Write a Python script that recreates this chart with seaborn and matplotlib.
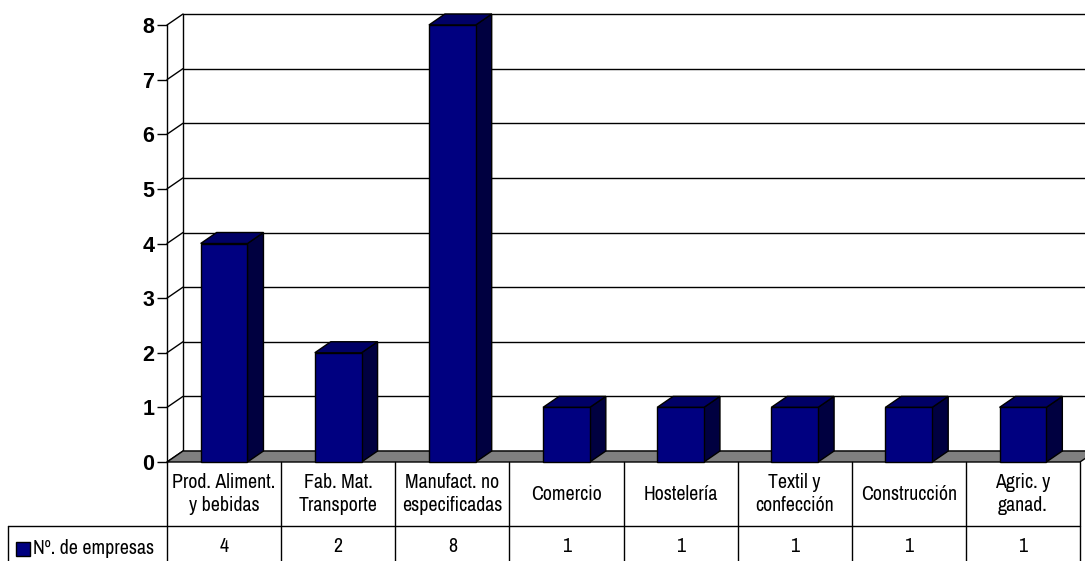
import matplotlib
matplotlib.use('Agg')
import matplotlib.pyplot as plt
import matplotlib.transforms as mtrans
from matplotlib.patches import Polygon, Rectangle
from matplotlib import font_manager as fm
import seaborn as sns

# ---------------- data ----------------
categories = ["Prod. Aliment.\ny bebidas", "Fab. Mat.\nTransporte", "Manufact. no\nespecificadas",
              "Comercio", "Hostelería", "Textil y\nconfección", "Construcción", "Agric. y\nganad."]
values = [4, 2, 8, 1, 1, 1, 1, 1]
series_name = "Nº. de empresas"
yticks = [0, 1, 2, 3, 4, 5, 6, 7, 8]

# ---------------- style ----------------
sns.set_theme(style='white')
plt.rcParams['font.family'] = ['Liberation Sans', 'DejaVu Sans']
available = {f.name for f in fm.fontManager.ttflist}
narrow_pick = next((f for f in ['Liberation Sans Narrow', 'Arial Narrow', 'Archivo Narrow',
                                'Roboto Condensed', 'PT Sans Narrow', 'Fira Sans Condensed',
                                'Encode Sans Condensed'] if f in available), 'Liberation Sans')
NARROW = [narrow_pick, 'DejaVu Sans']
FRONT, TOP, SIDE = '#000080', '#000066', '#000040'
FLOOR = '#808080'
LW = 1.0

W, H = 1085, 561
fig = plt.figure(figsize=(W / 100, H / 100), dpi=100)
fig.patch.set_facecolor('white')

x0px, x1px = 167, 1080      # front plane, left/right (pixels)
y0px, y1px = 462, 25        # value 0 / value 8 (pixels from top)
ax = fig.add_axes([x0px / W, (H - y0px) / H, (x1px - x0px) / W, (y0px - y1px) / H])
ax.set_facecolor('none')

n = len(categories)
ppx = (x1px - x0px) / n
ppy = (y0px - y1px) / 8
dx = 16 / ppx
dy = 11 / ppy

sns.barplot(x=categories, y=values, color=FRONT, saturation=1, width=0.41,
            edgecolor='black', linewidth=LW, ax=ax, zorder=4)
ax.set_xlim(-0.5, n - 0.5)
ax.set_ylim(0, 8)

# back wall gridlines + left wall
for k in yticks:
    ax.plot([-0.5 + dx, n - 0.5 + dx], [k + dy, k + dy], color='black', lw=LW, clip_on=False, zorder=1)
    ax.plot([-0.5, -0.5 + dx], [k, k + dy], color='black', lw=LW, clip_on=False, zorder=1)
ax.plot([-0.5 + dx, -0.5 + dx], [dy, 8 + dy], color='black', lw=LW, clip_on=False, zorder=1)

# floor
ax.add_patch(Polygon([(-0.5, 0), (n - 0.5, 0), (n - 0.5 + dx, dy), (-0.5 + dx, dy)],
                     closed=True, fc=FLOOR, ec='black', lw=LW, clip_on=False, zorder=2))

# 3D faces of bars
for p in list(ax.patches):
    if not isinstance(p, Rectangle):
        continue
    x, w, h = p.get_x(), p.get_width(), p.get_height()
    if h <= 0:
        continue
    p.set_zorder(4)
    p.set_clip_on(False)
    side = Polygon([(x + w, 0), (x + w + dx, dy), (x + w + dx, h + dy), (x + w, h)],
                   closed=True, fc=SIDE, ec='black', lw=LW, clip_on=False, zorder=3)
    top = Polygon([(x, h), (x + w, h), (x + w + dx, h + dy), (x + dx, h + dy)],
                  closed=True, fc=TOP, ec='black', lw=LW, clip_on=False, zorder=3)
    ax.add_patch(side)
    ax.add_patch(top)

# axes styling
for s in ['top', 'right', 'bottom']:
    ax.spines[s].set_visible(False)
ax.spines['left'].set_color('black')
ax.spines['left'].set_linewidth(LW)
ax.spines['left'].set_zorder(5)
ax.set_yticks(yticks)
ax.set_yticklabels([str(t) for t in yticks], fontweight='bold', fontsize=15.5, color='black')
ax.tick_params(axis='y', left=True, direction='out', length=7, width=LW, color='black', pad=2)
ax.set_xticks([])
ax.set_xlabel('')
ax.set_ylabel('')
ax.grid(False)

# ---------------- data table ----------------
blend = mtrans.blended_transform_factory(ax.transData, ax.transAxes)
axh = y0px - y1px
r0 = 0
r1 = -(526 - y0px) / axh
r2 = -(570 - y0px) / axh
leg_left = -0.5 - (x0px - 8) / ppx

ax.plot([leg_left, n - 0.5], [r1, r1], color='black', lw=LW, transform=blend, clip_on=False)
ax.plot([leg_left, leg_left], [r1, r2], color='black', lw=LW, transform=blend, clip_on=False)
for i in range(n + 1):
    ax.plot([i - 0.5, i - 0.5], [r0, r2], color='black', lw=LW, transform=blend, clip_on=False)

TFS = 14.3
for i, (c, v) in enumerate(zip(categories, values)):
    ax.text(i, -(494 - y0px) / axh, c, ha='center', va='center', transform=blend,
            fontsize=TFS, family=NARROW, linespacing=1.3, color='black')
    ax.text(i, -(547 - y0px) / axh, str(v), ha='center', va='center', transform=blend,
            fontsize=TFS, family=NARROW, color='black')

fig.add_artist(Rectangle((16 / W, (H - 556) / H), 14 / W, 14 / H, transform=fig.transFigure,
                         fc=FRONT, ec='black', lw=LW))
fig.text(33 / W, (H - 548) / H, series_name, ha='left', va='center', fontsize=TFS,
         family=NARROW, color='black')

fig.savefig('out.png', dpi=100, facecolor='white')
